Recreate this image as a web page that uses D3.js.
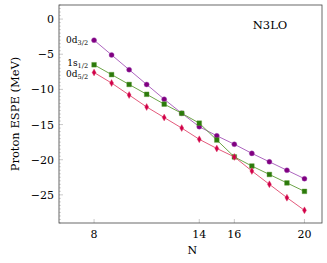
<!DOCTYPE html>
<html>
<head>
<meta charset="utf-8">
<script src="https://cdn.jsdelivr.net/npm/d3@7"></script>
<style>
  body { margin: 0; background: #fff; }
</style>
</head>
<body>
<svg id="chart" width="327" height="263" font-family="'DejaVu Serif', 'Liberation Serif', 'Times New Roman', serif"></svg>
<script>
// Neutron number N and proton ESPEs (MeV) for each orbital
const neutronN = [8, 9, 10, 11, 12, 13, 14, 15, 16, 17, 18, 19, 20];
const d32 = [-3.0, -5.1, -7.2, -9.3, -11.4, -13.4, -15.3, -16.6, -17.8, -19.1, -20.3, -21.5, -22.7];
const s12 = [-6.5, -7.9, -9.3, -10.7, -12.1, -13.4, -14.8, -17.2, -19.6, -20.9, -22.1, -23.3, -24.5];
const d52 = [-7.6, -9.1, -10.8, -12.5, -14.0, -15.5, -17.1, -18.4, -19.6, -21.6, -23.5, -25.4, -27.2];
const xTicks = [8, 14, 16, 20];
const yTicks = [0, -5, -10, -15, -20, -25];

const svg = d3.select("#chart");
const box = { left: 59, right: 322, top: 5, bottom: 223 };

const x = d3.scaleLinear().domain([6, 21]).range([box.left, box.right]);
const y = d3.scaleLinear().domain([2, -29]).range([box.top, box.bottom]);

// minor y ticks
const minor = d3.range(2, -29.01, -0.5).filter(v => !yTicks.includes(v));
svg.append("g").selectAll("line").data(minor).enter().append("line")
    .attr("x1", box.left).attr("x2", box.left + 2)
    .attr("y1", d => y(d)).attr("y2", d => y(d))
    .attr("stroke", "#bbb").attr("stroke-width", 0.6);

// major y ticks
svg.append("g").selectAll("line").data(yTicks).enter().append("line")
    .attr("x1", box.left).attr("x2", box.left + 4)
    .attr("y1", d => y(d)).attr("y2", d => y(d))
    .attr("stroke", "#bbb").attr("stroke-width", 0.8);

svg.append("g").selectAll("text").data(yTicks).enter().append("text")
    .attr("x", box.left - 5).attr("y", d => y(d) + 4)
    .attr("text-anchor", "end")
    .style("font-size", "11px")
    .text(d => d === 0 ? "0" : "\u2212" + Math.abs(d));

// x ticks
svg.append("g").selectAll("line").data(xTicks).enter().append("line")
    .attr("x1", d => x(d)).attr("x2", d => x(d))
    .attr("y1", box.bottom).attr("y2", box.bottom - 4)
    .attr("stroke", "#bbb").attr("stroke-width", 0.8);

svg.append("g").selectAll("text").data(xTicks).enter().append("text")
    .attr("x", d => x(d)).attr("y", box.bottom + 15)
    .attr("text-anchor", "middle")
    .style("font-size", "11px")
    .text(d => d);

// frame
svg.append("rect")
    .attr("x", box.left).attr("y", box.top)
    .attr("width", box.right - box.left).attr("height", box.bottom - box.top)
    .attr("fill", "none").attr("stroke", "#444").attr("stroke-width", 0.8);

// axis labels
svg.append("text")
    .attr("x", x(13.6)).attr("y", 254)
    .attr("text-anchor", "middle")
    .style("font-size", "11px")
    .text("N");

svg.append("text")
    .attr("transform", `translate(19,${(box.top + box.bottom) / 2}) rotate(-90)`)
    .attr("text-anchor", "middle")
    .style("font-size", "11.5px")
    .text("Proton ESPE (MeV)");

svg.append("text")
    .attr("x", 270).attr("y", 29)
    .attr("text-anchor", "middle")
    .style("font-size", "11.5px")
    .text("N3LO");

const series = [
    { values: d32, line: "#a455b8", fill: "#800080", shape: "circle", label: "0d", sub: "3/2", ly: 0 },
    { values: s12, line: "#5c9a34", fill: "#2b7a0b", shape: "square", label: "1s", sub: "1/2", ly: -2 },
    { values: d52, line: "#e0466c", fill: "#d1004a", shape: "diamond", label: "0d", sub: "5/2", ly: 1 }
];

const line = d3.line().x((d, i) => x(neutronN[i])).y(d => y(d));

series.forEach(s => {
    svg.append("path")
        .datum(s.values)
        .attr("fill", "none")
        .attr("stroke", s.line)
        .attr("stroke-width", 0.9)
        .attr("d", line);

    const sym = s.shape === "circle" ? d3.symbol(d3.symbolCircle, 20)
        : s.shape === "square" ? d3.symbol(d3.symbolSquare, 22)
        : d3.symbol(d3.symbolDiamond, 14);

    svg.append("g").selectAll("path").data(s.values).enter().append("path")
        .attr("transform", (d, i) => `translate(${x(neutronN[i])},${y(d)})`)
        .attr("d", sym)
        .attr("fill", s.fill)
        .attr("stroke", s.line)
        .attr("stroke-width", 0.4);

    const t = svg.append("text")
        .attr("x", x(neutronN[0]) - 6)
        .attr("y", y(s.values[0]) + 3 + s.ly)
        .attr("text-anchor", "end")
        .style("font-size", "9px");
    t.append("tspan").text(s.label);
    t.append("tspan").attr("dy", 2).style("font-size", "6.5px").text(s.sub);
});
</script>
</body>
</html>
